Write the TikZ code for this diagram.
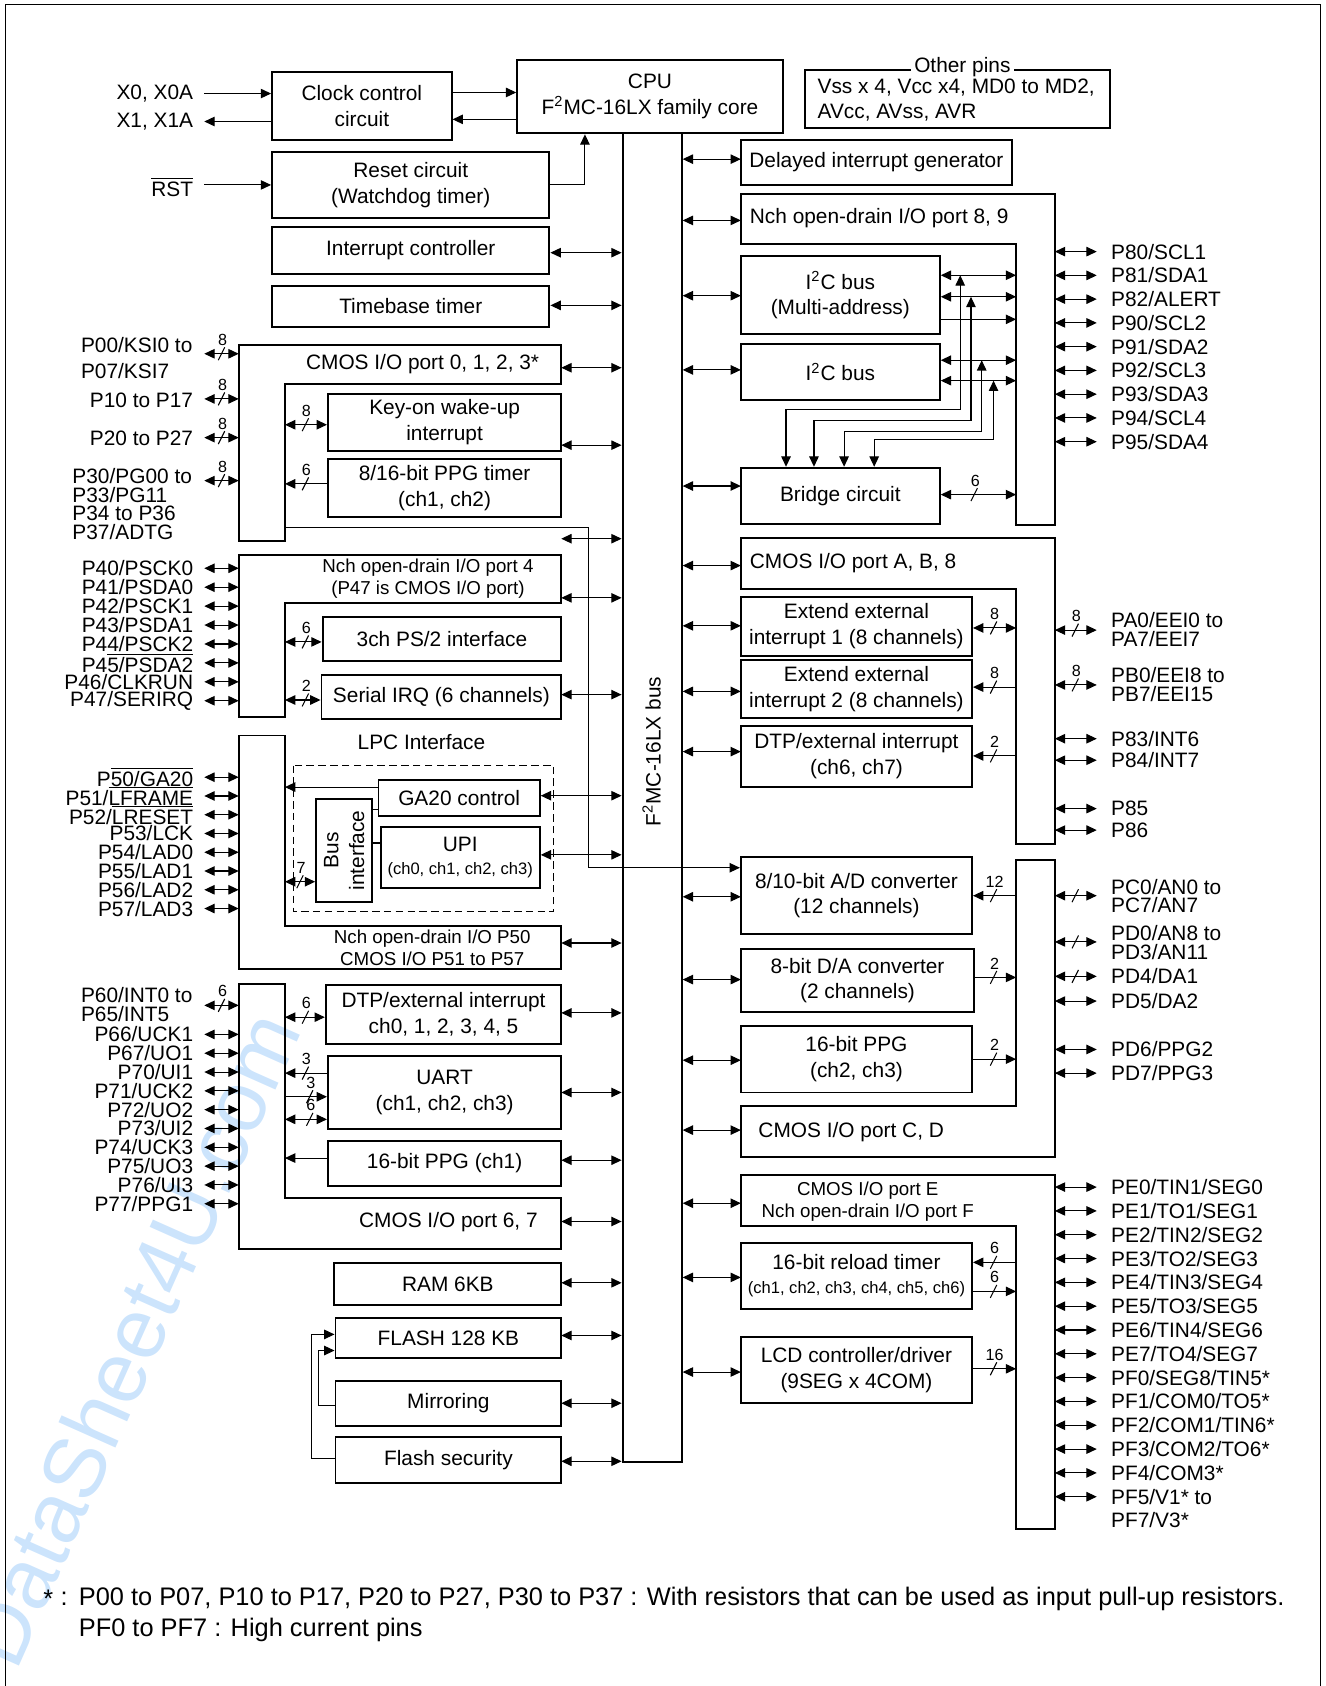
\documentclass[tikz,border=0pt]{standalone}
\usepackage{fontspec}
\setmainfont{Liberation Sans}
\usetikzlibrary{arrows.meta,fit}

\newcommand{\mainsz}{\fontsize{9.7}{12}\selectfont}
\newcommand{\smallsz}{\fontsize{8.7}{10}\selectfont}
\newcommand{\tinysz}{\fontsize{7.7}{9}\selectfont}
\newcommand{\numsz}{\fontsize{7.5}{7.5}\selectfont}
\newcommand{\notesz}{\fontsize{11.8}{14}\selectfont}
\newcommand{\ovl}[1]{$\overline{\hbox{#1}}$}
\definecolor{wmblue}{RGB}{204,228,252}

\tikzset{
  box/.style={draw, line width=0.9pt, inner sep=0pt},
  txt/.style={label={[align=center, inner sep=0pt]center:#1}},
  blk/.style={draw, line width=0.9pt},
  bi/.style={line width=0.5pt, {Triangle[length=4.8pt,width=4.4pt]}-{Triangle[length=4.8pt,width=4.4pt]}},
  ar/.style={line width=0.5pt, -{Triangle[length=4.8pt,width=4.4pt]}},
  ln/.style={line width=0.5pt},
  pinl/.style={anchor=east, inner sep=0pt},
  pinr/.style={anchor=west, inner sep=0pt},
  pics/bw/.style={code={
    \draw[line width=0.5pt] (-3,6) -- (3,-6);
    \node[font=\numsz, inner sep=0pt] at (1,-13) {#1};
  }},
}

\begin{document}
\begin{tikzpicture}[x=0.5pt, y=-0.5pt, font=\mainsz]
  \useasboundingbox (0,0) rectangle (1233,1568);

  % watermark
  \node[wmblue, font=\fontsize{40}{40}\selectfont, rotate=66] (wm) at (122,1245) {DataSheet4U.com};

  % frame
  \draw[line width=0.6pt] (5,1568) -- (5,4) -- (1228,4) -- (1228,1568);

  % edges used by the connectors
  \coordinate (pinL) at (190,0);
  \coordinate (portL) at (222,0);
  \coordinate (innerL) at (265,0);
  \coordinate (blkL) at (522,0);
  \coordinate (blkR) at (689,0);
  \coordinate (innerR) at (945,0);
  \coordinate (portR) at (981,0);
  \coordinate (pinR) at (1020,0);

  % cpu and bus
  \node[box, fit={(481,56) (728,124)}, txt={CPU\\F\textsuperscript{2}MC-16LX family core}] (cpu) {};
  \node[box, fit={(579,124) (634,1360)}] (bus) {};
  \node[rotate=90] (busl) at (606,699) {F\textsuperscript{2}MC-16LX bus};

  % clock and reset
  \node[box, fit={(253,67) (420,130)}, txt={Clock control\\circuit}] (clk) {};
  \node[pinl] (x0) at (180,87) {X0, X0A};
  \node[pinl] (x1) at (180,113) {X1, X1A};
  \draw[ar] (pinL |- x0) -- (clk.west |- x0);
  \draw[ar] (clk.west |- x1) -- (pinL |- x1);
  \draw[ar] (clk.east |- 0,86) -- (cpu.west |- 0,86);
  \draw[ar] (cpu.west |- 0,111) -- (clk.east |- 0,111);

  \node[box, fit={(253,141) (511,203)}, txt={Reset circuit\\(Watchdog timer)}] (rstc) {};
  \node[pinl] (rst) at (180,174) {\ovl{RST}};
  \draw[ar] (pinL |- 0,172) -- (rstc.west |- 0,172);
  \draw[ar] (rstc.east |- 0,172) -| (cpu.south -| 544,0);

  \node[box, fit={(253,211) (511,255)}, txt={Interrupt controller}] (intc) {};
  \node[box, fit={(253,266) (511,304)}, txt={Timebase timer}] (tbt) {};
  \draw[bi] (intc.east |- 0,235) -- (bus.west |- 0,235);
  \draw[bi] (tbt.east |- 0,284) -- (bus.west |- 0,284);

  % port 0, 1, 2, 3
  \draw[blk] (222,321) -- (522,321) -- (522,357) -- (265,357) -- (265,503) -- (222,503) -- cycle;
  \node (p03) at (393,339) {CMOS I/O port 0, 1, 2, 3*};
  \node[box, fit={(305,366) (522,419)}, txt={Key-on wake-up\\interrupt}] (kwu) {};
  \node[box, fit={(305,427) (522,481)}, txt={8/16-bit PPG timer\\(ch1, ch2)}] (ppgt) {};
  \draw[bi] (innerL |- 0,395) -- (kwu.west |- 0,395); \pic at (284,395) {bw=8};
  \draw[ar] (ppgt.west |- 0,450) -- (innerL |- 0,450); \pic at (284,450) {bw=6};

  \node[pinr] (p00) at (75,321) {P00/KSI0 to};
  \node[pinr] (p07) at (75,345) {P07/KSI7};
  \node[pinl] (p10) at (180,372) {P10 to P17};
  \node[pinl] (p20) at (180,408) {P20 to P27};
  \foreach \t [count=\i from 0] in {P30/PG00 to, P33/PG11, P34 to P36, P37/ADTG} {
    \pgfmathsetmacro{\y}{443+17.4*\i}
    \node[pinr] at (67,\y) {\t};
  }
  \foreach \y in {329,371,407,447} {
    \draw[bi] (pinL |- 0,\y) -- (portL |- 0,\y);
    \pic at (206,\y) {bw=8};
  }

  % port 4
  \draw[blk] (222,516) -- (522,516) -- (522,561) -- (265,561) -- (265,667) -- (222,667) -- cycle;
  \node[font=\smallsz, align=center] (p4) at (398,538) {Nch open-drain I/O port 4\\(P47 is CMOS I/O port)};
  \node[box, fit={(300,574) (522,615)}, txt={3ch PS/2 interface}] (ps2) {};
  \node[box, fit={(299,628) (522,669)}, txt={Serial IRQ (6 channels)}] (sirq) {};
  \draw[bi] (innerL |- 0,597) -- (ps2.west |- 0,597); \pic at (284,597) {bw=6};
  \draw[bi] (innerL |- 0,651) -- (sirq.west |- 0,651); \pic at (284,651) {bw=2};
  \foreach \t [count=\i from 0] in {P40/PSCK0, P41/PSDA0, P42/PSCK1, P43/PSDA1, P44/PSCK2, P4\ovl{5/PSDA2}, P46/CLKRUN, P47/SERIRQ} {
    \pgfmathsetmacro{\y}{528.5+17.6*\i}
    \node[pinl] at (180,\y) {\t};
    \draw[bi] (pinL |- 0,\y) -- (portL |- 0,\y);
  }

  % LPC
  \draw[blk] (222,684) -- (265,684) -- (265,861) -- (522,861) -- (522,901) -- (222,901) -- cycle;
  \node (lpc) at (392,690) {LPC Interface};
  \draw[ln, dash pattern=on 3.5pt off 2pt] (273,712) rectangle (515,848);
  \node[box, fit={(352,725) (502,759)}, txt={GA20 control}] (ga20) {};
  \node[box, fit={(354,769) (502,826)}, txt={UPI\\[-1.5pt]{\tinysz (ch0, ch1, ch2, ch3)}}] (upi) {};
  \node[box, fit={(294,743) (346,839)}] (bif) {};
  \node[rotate=90, align=center] at (bif.center) {Bus\\interface};
  \draw[ar] (ga20.west |- 0,732) -- (innerL |- 0,732);
  \draw[ln] (bif.east |- 0,753) -- (ga20.west |- 0,753);
  \draw[ln] (bif.east |- 0,784) -- (upi.west |- 0,784);
  \draw[bi] (innerL |- 0,820) -- (bif.west |- 0,820); \pic at (279,820) {bw=7};
  \node[font=\smallsz, align=center] (p5) at (402,881.5) {Nch open-drain I/O P50\\CMOS I/O P51 to P57};
  \foreach \t [count=\i from 0] in {P\ovl{50/GA20}, P51/\ovl{LFRAME}, P52/\ovl{LRESET}, P53/LCK, P54/LAD0, P55/LAD1, P56/LAD2, P57/LAD3} {
    \pgfmathsetmacro{\y}{722.8+17.45*\i}
    \node[pinl] at (180,\y) {\t};
    \draw[bi] (pinL |- 0,\y) -- (portL |- 0,\y);
  }

  % port 6, 7
  \draw[blk] (222,915) -- (265,915) -- (265,1114) -- (522,1114) -- (522,1162) -- (222,1162) -- cycle;
  \node (p67) at (417,1137) {CMOS I/O port 6, 7};
  \node[box, fit={(303,916) (522,971)}, txt={DTP/external interrupt\\ch0, 1, 2, 3, 4, 5}] (dtp05) {};
  \node[box, fit={(305,982) (522,1050)}, txt={UART\\(ch1, ch2, ch3)}] (uart) {};
  \node[box, fit={(305,1061) (522,1103)}, txt={16-bit PPG (ch1)}] (ppg1) {};
  \draw[bi] (innerL |- 0,946) -- (dtp05.west |- 0,946); \pic at (284,946) {bw=6};
  \draw[ar] (uart.west |- 0,998) -- (innerL |- 0,998); \pic at (284,998) {bw=3};
  \draw[ar] (innerL |- 0,1020) -- (uart.west |- 0,1020); \pic at (288,1020) {bw=3};
  \draw[bi] (innerL |- 0,1041) -- (uart.west |- 0,1041); \pic at (288,1041) {bw=6};
  \draw[ar] (ppg1.west |- 0,1077) -- (innerL |- 0,1077);
  \node[pinr] (p60) at (75,925) {P60/INT0 to};
  \node[pinr] (p65) at (75,943) {P65/INT5};
  \draw[bi] (pinL |- 0,935) -- (portL |- 0,935); \pic at (206,935) {bw=6};
  \foreach \t [count=\i from 0] in {P66/UCK1, P67/UO1, P70/UI1, P71/UCK2, P72/UO2, P73/UI2, P74/UCK3, P75/UO3, P76/UI3, P77/PPG1} {
    \pgfmathsetmacro{\y}{962+17.5*\i}
    \node[pinl] at (180,\y) {\t};
    \draw[bi] (pinL |- 0,\y) -- (portL |- 0,\y);
  }

  % memory
  \node[box, fit={(311,1175) (522,1214)}, txt={RAM 6KB}] (ram) {};
  \node[box, fit={(312,1226) (522,1263)}, txt={FLASH 128 KB}] (flash) {};
  \node[box, fit={(312,1284) (522,1326)}, txt={Mirroring}] (mirr) {};
  \node[box, fit={(312,1336) (522,1379)}, txt={Flash security}] (fsec) {};
  \draw[ar] (mirr.west |- 0,1307) -| (296,1256) -- (flash.west |- 0,1256);
  \draw[ar] (fsec.west |- 0,1356) -| (290,1241) -- (flash.west |- 0,1241);

  % left blocks to bus
  \foreach \y in {342,414,501,556,646,877,942,1016,1079,1136,1193,1242,1305,1359}
    \draw[bi] (blkL |- 0,\y) -- (bus.west |- 0,\y);
  \draw[bi] (ga20.east |- 0,740) -- (bus.west |- 0,740);
  \draw[bi] (upi.east |- 0,795) -- (bus.west |- 0,795);

  % other pins
  \node[box, fit={(749,65) (1032,119)}] (oth) {};
  \node[fill=white, inner sep=1.5pt] (othl) at (895,62) {Other pins};
  \node[pinr] at (760,81) {Vss x 4, Vcc x4, MD0 to MD2,};
  \node[pinr] at (760,105) {AVcc, AVss, AVR};

  % port 8, 9
  \node[box, fit={(689,130) (941,172)}, txt={Delayed interrupt generator}] (dig) {};
  \draw[blk] (689,180) -- (981,180) -- (981,488) -- (945,488) -- (945,227) -- (689,227) -- cycle;
  \node[pinr] (p89) at (697,203) {Nch open-drain I/O port 8, 9};
  \node[box, fit={(689,238) (874,311)}, txt={I\textsuperscript{2}C bus\\(Multi-address)}] (i2cm) {};
  \node[box, fit={(689,320) (874,372)}, txt={I\textsuperscript{2}C bus}] (i2c) {};
  \node[box, fit={(689,435) (874,487)}, txt={Bridge circuit}] (brg) {};
  \draw[bi] (i2cm.east |- 0,256) -- (innerR |- 0,256);
  \draw[bi] (i2cm.east |- 0,276) -- (innerR |- 0,276);
  \draw[ar] (i2cm.east |- 0,297) -- (innerR |- 0,297);
  \draw[bi] (i2c.east |- 0,335) -- (innerR |- 0,335);
  \draw[bi] (i2c.east |- 0,354) -- (innerR |- 0,354);
  \draw[bi] (893,256) |- (731,381) -- (brg.north -| 731,0);
  \draw[bi] (903,276) |- (757,391) -- (brg.north -| 757,0);
  \draw[bi] (913,335) |- (785,401) -- (brg.north -| 785,0);
  \draw[bi] (924,354) |- (813,409) -- (brg.north -| 813,0);
  \draw[bi] (brg.east |- 0,460) -- (innerR |- 0,460); \pic at (906,460) {bw=6};
  \foreach \t [count=\i from 0] in {P80/SCL1, P81/SDA1, P82/ALERT, P90/SCL2, P91/SDA2, P92/SCL3, P93/SDA3, P94/SCL4, P95/SDA4} {
    \pgfmathsetmacro{\y}{234+22.1*\i}
    \draw[bi] (portR |- 0,\y) -- (pinR |- 0,\y);
    \node[pinr] at (1033,\y) {\t};
  }

  % port A, B, 8
  \draw[blk] (689,500) -- (981,500) -- (981,785) -- (945,785) -- (945,548) -- (689,548) -- cycle;
  \node[pinr] (pab) at (697,524) {CMOS I/O port A, B, 8};
  \node[box, fit={(689,555) (904,610)}, txt={Extend external\\interrupt 1 (8 channels)}] (eei1) {};
  \node[box, fit={(689,614) (904,668)}, txt={Extend external\\interrupt 2 (8 channels)}] (eei2) {};
  \node[box, fit={(689,675) (904,732)}, txt={DTP/external interrupt\\(ch6, ch7)}] (dtp67) {};
  \draw[bi] (eei1.east |- 0,584) -- (innerR |- 0,584); \pic at (924,584) {bw=8};
  \draw[ar] (innerR |- 0,639) -- (eei2.east |- 0,639); \pic at (924,639) {bw=8};
  \draw[ar] (innerR |- 0,703) -- (dtp67.east |- 0,703); \pic at (924,703) {bw=2};
  \draw[bi] (portR |- 0,586) -- (pinR |- 0,586); \pic at (1000,586) {bw=8};
  \draw[bi] (portR |- 0,637) -- (pinR |- 0,637); \pic at (1000,637) {bw=8};
  \node[pinr] at (1033,577) {PA0/EEI0 to};
  \node[pinr] at (1033,594) {PA7/EEI7};
  \node[pinr] at (1033,628) {PB0/EEI8 to};
  \node[pinr] at (1033,645) {PB7/EEI15};
  \foreach \y/\t in {687/{P83/INT6}, 707/{P84/INT7}, 752/P85, 772/P86} {
    \draw[bi] (portR |- 0,\y) -- (pinR |- 0,\y);
    \node[pinr] at (1033,\y) {\t};
  }

  % port C, D
  \draw[blk] (945,800) -- (981,800) -- (981,1076) -- (689,1076) -- (689,1029) -- (945,1029) -- cycle;
  \node[pinr] (pcd) at (705,1053) {CMOS I/O port C, D};
  \node[box, fit={(689,797) (904,869)}, txt={8/10-bit A/D converter\\(12 channels)}] (adc) {};
  \node[box, fit={(689,883) (906,941)}, txt={8-bit D/A converter\\(2 channels)}] (dac) {};
  \node[box, fit={(689,954) (904,1016)}, txt={16-bit PPG\\(ch2, ch3)}] (ppg23) {};
  \draw[ar] (innerR |- 0,833) -- (adc.east |- 0,833); \pic at (924,833) {bw=12};
  \draw[ar] (dac.east |- 0,909) -- (innerR |- 0,909); \pic at (924,909) {bw=2};
  \draw[ar] (ppg23.east |- 0,985) -- (innerR |- 0,985); \pic at (924,985) {bw=2};
  \draw[ar] (innerL |- 0,491) -| (547,807) -- (adc.west |- 0,807);
  \foreach \y in {833,876,908} {
    \draw[bi] (portR |- 0,\y) -- (pinR |- 0,\y);
    \pic at (1000,\y) {bw={}};
  }
  \foreach \y in {931,976,998}
    \draw[bi] (portR |- 0,\y) -- (pinR |- 0,\y);
  \node[pinr] at (1033,825) {PC0/AN0 to};
  \node[pinr] at (1033,842) {PC7/AN7};
  \node[pinr] at (1033,868) {PD0/AN8 to};
  \node[pinr] at (1033,885) {PD3/AN11};
  \node[pinr] at (1033,908) {PD4/DA1};
  \node[pinr] at (1033,931) {PD5/DA2};
  \node[pinr] at (1033,976) {PD6/PPG2};
  \node[pinr] at (1033,998) {PD7/PPG3};

  % port E, F
  \draw[blk] (689,1093) -- (981,1093) -- (981,1422) -- (945,1422) -- (945,1140) -- (689,1140) -- cycle;
  \node[font=\smallsz, align=center] (pef) at (807,1117.5) {CMOS I/O port E\\Nch open-drain I/O port F};
  \node[box, fit={(689,1156) (904,1217)}, txt={16-bit reload timer\\[-1pt]{\tinysz (ch1, ch2, ch3, ch4, ch5, ch6)}}] (rld) {};
  \node[box, fit={(689,1243) (904,1305)}, txt={LCD controller/driver\\(9SEG x 4COM)}] (lcd) {};
  \draw[ar] (innerR |- 0,1174) -- (rld.east |- 0,1174); \pic at (924,1174) {bw=6};
  \draw[ar] (rld.east |- 0,1201) -- (innerR |- 0,1201); \pic at (924,1201) {bw=6};
  \draw[ar] (lcd.east |- 0,1273) -- (innerR |- 0,1273); \pic at (924,1273) {bw=16};
  \foreach \t [count=\i from 0] in {PE0/TIN1/SEG0, PE1/TO1/SEG1, PE2/TIN2/SEG2, PE3/TO2/SEG3, PE4/TIN3/SEG4, PE5/TO3/SEG5, PE6/TIN4/SEG6, PE7/TO4/SEG7, PF0/SEG8/TIN5*, PF1/COM0/TO5*, PF2/COM1/TIN6*, PF3/COM2/TO6*, PF4/COM3*, PF5/V1* to} {
    \pgfmathsetmacro{\y}{1104+22.15*\i}
    \draw[bi] (portR |- 0,\y) -- (pinR |- 0,\y);
    \node[pinr] at (1033,\y) {\t};
  }
  \node[pinr] at (1033,1414) {PF7/V3*};

  % right blocks to bus
  \foreach \y in {148,205,275,344,452,526,582,643,699,834,911,986,1051,1119,1188,1276}
    \draw[bi] (bus.east |- 0,\y) -- (blkR |- 0,\y);

  % note
  \node[font=\notesz, anchor=west, inner sep=0pt] (star) at (40,1487) {*};
  \node[font=\notesz, anchor=west, inner sep=0pt] (colon) at (56,1487) {:};
  \node[font=\notesz, anchor=west, inner sep=0pt] (note1) at (73,1487) {P00 to P07, P10 to P17, P20 to P27, P30 to P37 : With resistors that can be used as input pull-up resistors.};
  \node[font=\notesz, anchor=west, inner sep=0pt] (note2) at (73,1516) {PF0 to PF7 : High current pins};
\end{tikzpicture}
\end{document}
